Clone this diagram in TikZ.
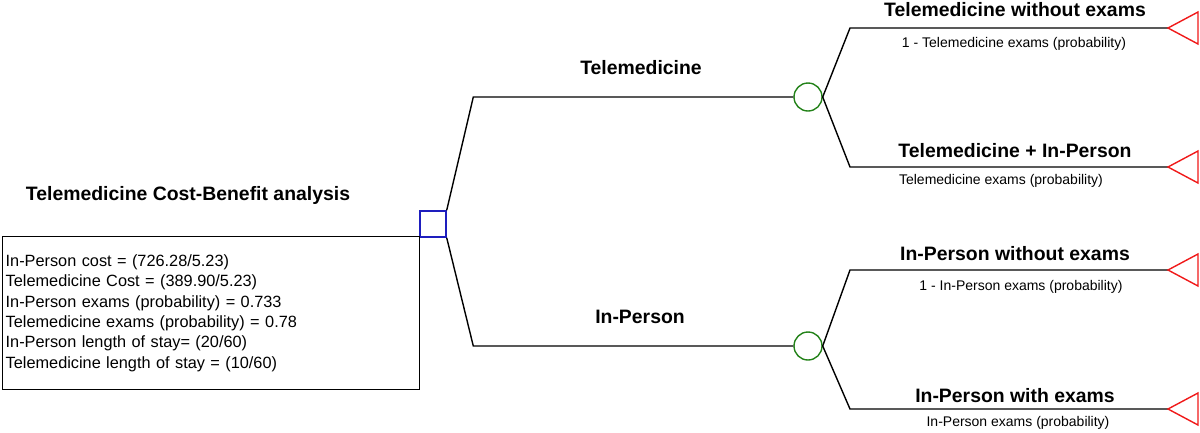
\documentclass[tikz,border=0pt]{standalone}
\usepackage{fontspec}
\setmainfont{Liberation Sans}
\definecolor{dblue}{RGB}{30,30,190}
\definecolor{dgreen}{RGB}{35,130,25}
\definecolor{tred}{RGB}{240,25,25}
\begin{document}
\begin{tikzpicture}[x=1pt,y=-1pt,line width=1.4pt]
\useasboundingbox (0,0) rectangle (1200,432);
\node[draw=dblue, rectangle, minimum size=26pt, inner sep=0] (1) at (433,224) {};
\node[draw=dgreen, circle, minimum size=28pt, inner sep=0] (2) at (808,97) {};
\node[draw=dgreen, circle, minimum size=28pt, inner sep=0] (3) at (808,346) {};
\coordinate (4) at (1168,28);
\coordinate (5) at (1168,167);
\coordinate (6) at (1168,270);
\coordinate (7) at (1168,409);
\node[draw, anchor=north west, minimum width=417pt, minimum height=153pt, text width=411pt, inner xsep=3pt, align=left, font=\fontsize{16.3}{20.3}\selectfont] (box) at (2,236) {In-Person cost = (726.28/5.23)\\Telemedicine Cost = (389.90/5.23)\\In-Person exams (probability) = 0.733\\Telemedicine exams (probability) = 0.78\\In-Person length of stay= (20/60)\\Telemedicine length of stay = (10/60)};
\node[font=\bfseries\fontsize{19.4}{22}\selectfont] (title) at (188,195) {Telemedicine Cost-Benefit analysis};
\node[font=\bfseries\fontsize{19.4}{22}\selectfont] (a) at (641,68) {Telemedicine};
\node[font=\bfseries\fontsize{19.4}{22}\selectfont] (b) at (640,317) {In-Person};
\node[font=\bfseries\fontsize{19.4}{22}\selectfont] (c) at (1015,10) {Telemedicine without exams};
\node[font=\fontsize{14}{16}\selectfont] (cp) at (1014,44) {1 - Telemedicine exams (probability)};
\node[font=\bfseries\fontsize{19.4}{22}\selectfont] (d) at (1015,151) {Telemedicine + In-Person};
\node[font=\fontsize{14}{16}\selectfont] (dp) at (1001,181) {Telemedicine exams (probability)};
\node[font=\bfseries\fontsize{19.4}{22}\selectfont] (e) at (1015,254) {In-Person without exams};
\node[font=\fontsize{14}{16}\selectfont] (ep) at (1021,287) {1 - In-Person exams (probability)};
\node[font=\bfseries\fontsize{19.4}{22}\selectfont] (f) at (1015,396) {In-Person with exams};
\node[font=\fontsize{14}{16}\selectfont] (fp) at (1018,423) {In-Person exams (probability)};
\path[draw,-] (1.north east) -- ([xshift=-320pt]2.west) -- (2.west);
\path[draw,-] (1.south east) -- ([xshift=-320pt]3.west) -- (3.west);
\path[draw,-] (2.east) -- ([xshift=-318pt]4) -- (4);
\path[draw,-] (2.east) -- ([xshift=-318pt]5) -- (5);
\path[draw,-] (3.east) -- ([xshift=-318pt]6) -- (6);
\path[draw,-] (3.east) -- ([xshift=-318pt]7) -- (7);
\draw[tred] (4) -- ++(30,-16) -- ++(0,32) -- cycle;
\draw[tred] (5) -- ++(30,-16) -- ++(0,32) -- cycle;
\draw[tred] (6) -- ++(30,-16) -- ++(0,32) -- cycle;
\draw[tred] (7) -- ++(30,-16) -- ++(0,32) -- cycle;
\end{tikzpicture}
\end{document}
